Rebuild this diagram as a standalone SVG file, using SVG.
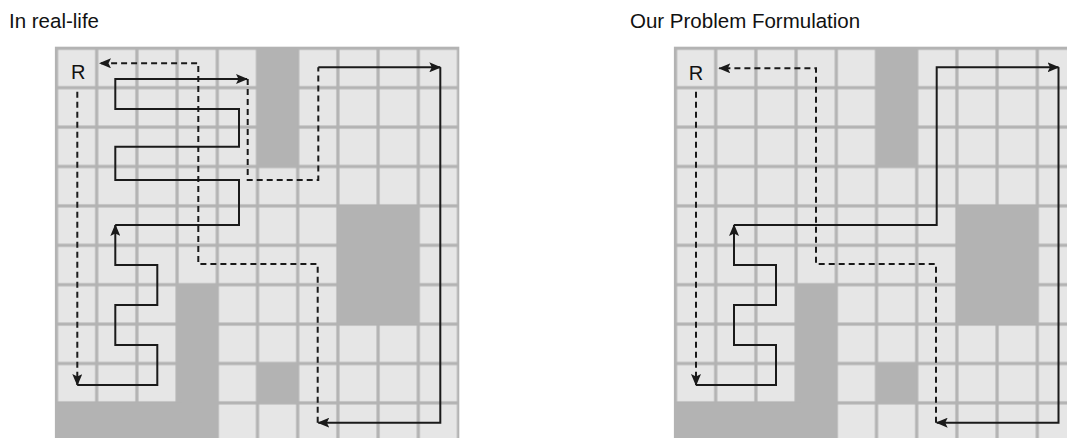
<svg xmlns="http://www.w3.org/2000/svg" width="1067" height="438" viewBox="0 0 1067 438">
  <style>
    .title { font-family: "Liberation Sans", Arial, sans-serif; font-size: 20.5px; fill: #111; }
    .rlabel { font-family: "Liberation Sans", Arial, sans-serif; font-size: 20px; fill: #111; text-anchor: middle; }
    .line { fill: #b3b3b3; }
    .obst { fill: #b3b3b3; }
    .solid { fill: none; stroke: #1a1a1a; stroke-width: 2; stroke-linejoin: miter; }
    .dash { fill: none; stroke: #1a1a1a; stroke-width: 2; stroke-dasharray: 6 4; }
  </style>
  <defs>
    <pattern id="cells" patternUnits="userSpaceOnUse" x="56.5" y="48.3" width="40.2" height="39.4">
      <rect x="1.6" y="1.6" width="37" height="36.2" fill="#e6e6e6"/>
    </pattern>
    <marker id="arrow" viewBox="0 0 12 10" refX="11" refY="5" markerWidth="12" markerHeight="10" markerUnits="userSpaceOnUse" orient="auto">
      <path d="M0,0 L12,5 L0,10 L2.5,5 z" fill="#1a1a1a" stroke="none"/>
    </marker>
    <g id="gridbase">
      <rect class="line" x="54.9" y="46.7" width="404.4" height="400"/>
      <rect x="56.5" y="48.3" width="402" height="400" fill="url(#cells)"/>
      <rect class="obst" x="257.5" y="48.3" width="40.2" height="118.2"/>
      <rect class="obst" x="337.9" y="205.9" width="80.4" height="118.2"/>
      <rect class="obst" x="177.1" y="284.7" width="40.2" height="160"/>
      <rect class="obst" x="56.5" y="402.9" width="125" height="40"/>
      <rect class="obst" x="257.5" y="363.5" width="40.2" height="39.4"/>
    </g>
  </defs>

  <text class="title" x="9" y="27.5">In real-life</text>
  <text class="title" x="630" y="28">Our Problem Formulation</text>

  <g id="grid-real-life">
    <use href="#gridbase"/>
    <text class="rlabel" x="78.3" y="79">R</text>
  </g>

  <g id="grid-formulation">
    <use href="#gridbase" x="619" y="0"/>
    <text class="rlabel" x="696" y="79.5">R</text>
  </g>

  <g id="connectors-real-life">
    <path class="solid" d="M77.3,385 H157.3 V345 H115.3 V305 H157.3 V265 H115.3 V225" marker-end="url(#arrow)"/>
    <path class="solid" d="M115.3,225 H239 V180 H115.3 V146.7 H239 V109 H115.3 V79 H247" marker-end="url(#arrow)"/>
    <path class="dash" d="M247.7,79 V180 H318.3 V67.3"/>
    <path class="solid" d="M318.3,67.3 H440.3" marker-end="url(#arrow)"/>
    <path class="solid" d="M440.3,67.3 V422.7 H318.3" marker-end="url(#arrow)"/>
    <path class="dash" d="M317.7,422.7 V264 H198.3 V63.3 H100" marker-end="url(#arrow)"/>
    <path class="dash" d="M77.3,91.7 V385" marker-end="url(#arrow)"/>
  </g>

  <g id="connectors-formulation">
    <path class="solid" d="M696,385 H776 V345 H734 V305 H776 V265 H734 V225" marker-end="url(#arrow)"/>
    <path class="solid" d="M734,225 H936.7 V67.3 H1058.5" marker-end="url(#arrow)"/>
    <path class="solid" d="M1058.5,67.3 V422.7 H936.7" marker-end="url(#arrow)"/>
    <path class="dash" d="M936,422.7 V264 H816 V68.3 H719.3" marker-end="url(#arrow)"/>
    <path class="dash" d="M696,91.7 V385" marker-end="url(#arrow)"/>
  </g>
</svg>
